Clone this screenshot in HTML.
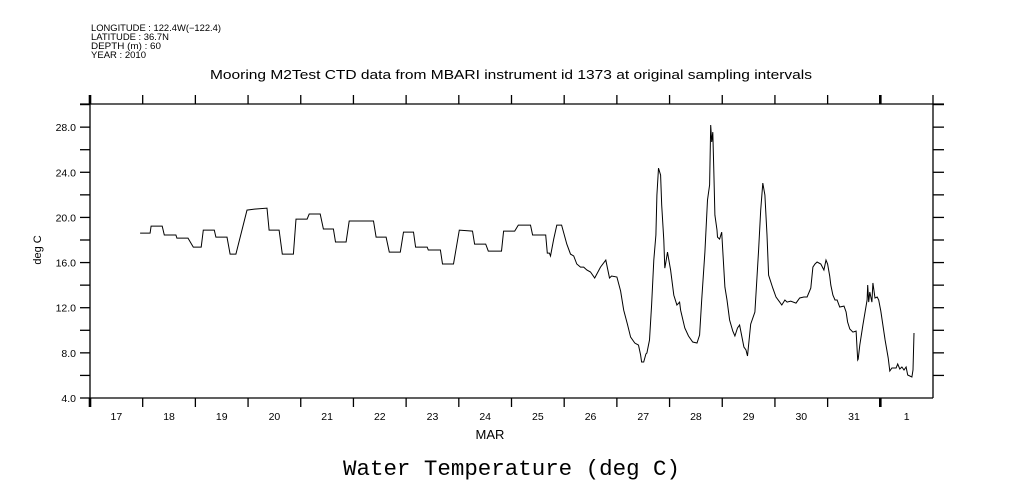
<!DOCTYPE html>
<html><head><meta charset="utf-8"><style>
body{margin:0;background:#fff;}
svg{display:block;font-family:"Liberation Sans",sans-serif;}
</style></head><body>
<svg id="chart" width="1009" height="504" viewBox="0 0 1009 504" xmlns="http://www.w3.org/2000/svg">
<g font-size="9" fill="#000">
<text x="91" y="31" textLength="130" lengthAdjust="spacingAndGlyphs">LONGITUDE : 122.4W(−122.4)</text>
<text x="91" y="40" textLength="78" lengthAdjust="spacingAndGlyphs">LATITUDE : 36.7N</text>
<text x="91" y="49" textLength="70" lengthAdjust="spacingAndGlyphs">DEPTH (m) : 60</text>
<text x="91" y="58" textLength="55" lengthAdjust="spacingAndGlyphs">YEAR : 2010</text>
</g>
<text x="210" y="79" textLength="602" lengthAdjust="spacingAndGlyphs" font-size="12.5">Mooring M2Test CTD data from MBARI instrument id 1373 at original sampling intervals</text>
<text x="343" y="475" textLength="337" lengthAdjust="spacingAndGlyphs" font-size="22" font-family="Liberation Mono, monospace">Water Temperature (deg C)</text>
<text x="490" y="439" text-anchor="middle" font-size="13">MAR</text>
<text transform="translate(41,250) rotate(-90)" text-anchor="middle" font-size="11">deg C</text>
<g id="axes" stroke="#000" stroke-width="1.3" fill="none"></g>
<g id="labels" font-size="10.5" fill="#000"></g>
<path id="series" fill="none" stroke="#000" stroke-width="1"></path>
</svg>
<script>
const dayLabels=["17","18","19","20","21","22","23","24","25","26","27","28","29","30","31","1"];
const yTicks=[4,8,12,16,20,24,28];
const days=[0.95,1.14,1.16,1.37,1.41,1.63,1.65,1.86,1.96,2.11,2.15,2.36,2.39,2.60,2.66,2.77,2.98,3.12,3.36,3.40,3.59,3.65,3.86,3.91,4.12,4.16,4.37,4.43,4.62,4.66,4.86,4.92,5.38,5.43,5.62,5.68,5.89,5.95,6.14,6.18,6.40,6.42,6.65,6.69,6.90,7.01,7.26,7.30,7.51,7.56,7.81,7.85,8.06,8.13,8.36,8.40,8.65,8.68,8.72,8.74,8.80,8.86,8.95,9.05,9.12,9.18,9.24,9.31,9.37,9.43,9.50,9.58,9.69,9.79,9.86,9.90,10.00,10.07,10.13,10.20,10.26,10.34,10.41,10.45,10.47,10.51,10.55,10.57,10.62,10.66,10.70,10.74,10.76,10.79,10.83,10.85,10.89,10.91,10.93,10.96,10.98,11.02,11.08,11.14,11.19,11.21,11.29,11.36,11.44,11.52,11.57,11.61,11.67,11.72,11.76,11.78,11.80,11.82,11.84,11.86,11.90,11.91,11.95,11.99,12.01,12.05,12.09,12.14,12.20,12.24,12.29,12.33,12.41,12.45,12.48,12.54,12.62,12.66,12.69,12.73,12.77,12.81,12.85,12.88,12.96,13.02,13.09,13.13,13.19,13.23,13.30,13.40,13.47,13.55,13.61,13.68,13.72,13.76,13.80,13.87,13.93,13.97,14.00,14.04,14.06,14.10,14.14,14.18,14.23,14.31,14.35,14.38,14.42,14.48,14.54,14.57,14.58,14.61,14.67,14.75,14.76,14.78,14.80,14.84,14.86,14.90,14.94,14.97,15.01,15.09,15.15,15.18,15.22,15.26,15.30,15.33,15.37,15.41,15.45,15.49,15.52,15.60,15.62,15.64,15.70];
const temps=[18.61,18.61,19.23,19.23,18.44,18.44,18.17,18.17,17.37,17.37,18.88,18.88,18.26,18.26,16.75,16.75,20.65,20.74,20.83,18.88,18.88,16.75,16.75,19.85,19.85,20.30,20.30,18.97,18.97,17.82,17.82,19.68,19.68,18.26,18.26,16.93,16.93,18.70,18.70,17.37,17.37,17.11,17.11,15.87,15.87,18.88,18.79,17.64,17.64,17.02,17.02,18.79,18.79,19.32,19.32,18.44,18.44,16.84,16.84,16.58,18.08,19.32,19.32,17.64,16.75,16.58,15.87,15.60,15.60,15.34,15.16,14.63,15.60,16.22,14.63,14.81,14.72,13.48,11.79,10.55,9.40,8.87,8.69,7.81,7.19,7.19,7.90,7.99,9.14,12.24,16.22,18.44,21.98,24.37,23.75,21.09,17.99,15.51,16.05,16.93,16.40,15.34,13.12,12.24,12.50,11.79,10.20,9.49,8.96,8.87,9.58,12.68,16.93,21.54,22.87,28.19,26.68,27.56,24.19,20.21,18.88,18.26,18.08,18.70,17.02,13.83,12.68,10.91,9.93,9.49,10.20,10.47,8.52,8.25,7.72,10.55,11.62,14.72,17.11,20.65,23.04,21.98,18.44,14.89,13.74,12.95,12.50,12.24,12.68,12.50,12.59,12.41,12.86,12.95,12.95,13.74,15.60,15.87,16.05,15.87,15.34,16.22,15.87,14.81,14.01,13.12,12.68,12.68,12.06,12.14,11.62,10.73,10.11,9.84,9.93,7.37,7.45,8.69,10.47,12.68,14.01,12.50,13.39,12.50,14.19,12.86,12.95,12.68,11.71,9.14,7.54,6.39,6.66,6.66,6.66,7.01,6.57,6.75,6.48,6.75,6.04,5.86,6.48,9.76];
const X0=90,X1=933,Y0=398,Y1=104,DMAX=16,VMIN=4,VMAX=30.05;
function xs(d){return X0+d*(X1-X0)/DMAX;}
function ys(v){return Y0-(v-VMIN)*(Y0-Y1)/(VMAX-VMIN);}
const NS="http://www.w3.org/2000/svg";
const ax=document.getElementById('axes'),lb=document.getElementById('labels');
function line(x1,y1,x2,y2,w,name){const l=document.createElementNS(NS,'line');l.setAttribute('x1',x1);l.setAttribute('y1',y1);l.setAttribute('x2',x2);l.setAttribute('y2',y2);if(w)l.setAttribute('stroke-width',w);


ax.appendChild(l);}
line(X0,Y1-9,X0,Y0+9,0,'left-axis');
line(X0,Y0,X1,Y0,0,'bottom-axis');
line(80,Y1,944,Y1,0,'top-axis');
line(X1,Y1-9,X1,Y0,0,'right-axis');
for(let i=0;i<=DMAX;i++){const x=xs(i);const thick=(i===0||i===15)?2.6:0;
if(i<DMAX){line(x,Y1-9,x,Y1,thick,'top-day-tick');line(x,Y0,x,Y0+9,thick,'bottom-day-tick');}}
dayLabels.forEach((t,i)=>{const e=document.createElementNS(NS,'text');e.setAttribute('x',xs(i+0.5));e.setAttribute('y',Y0+22);e.setAttribute('text-anchor','middle');e.textContent=t;


lb.appendChild(e);});
for(let v=4;v<=30;v+=2){const y=ys(v);line(X0-10,y,X0,y,0,'left-y-tick');if(v>4)line(X1,y,X1+11,y,0,'right-y-tick');}
yTicks.forEach(v=>{const e=document.createElementNS(NS,'text');e.setAttribute('x',X0-14);e.setAttribute('y',ys(v)+4);e.setAttribute('text-anchor','end');e.textContent=v.toFixed(1);


lb.appendChild(e);});
let d='';days.forEach((t,i)=>{d+=(i?'L':'M')+xs(t).toFixed(1)+' '+ys(temps[i]).toFixed(1);});
document.getElementById('series').setAttribute('d',d);
</script>
</body></html>
